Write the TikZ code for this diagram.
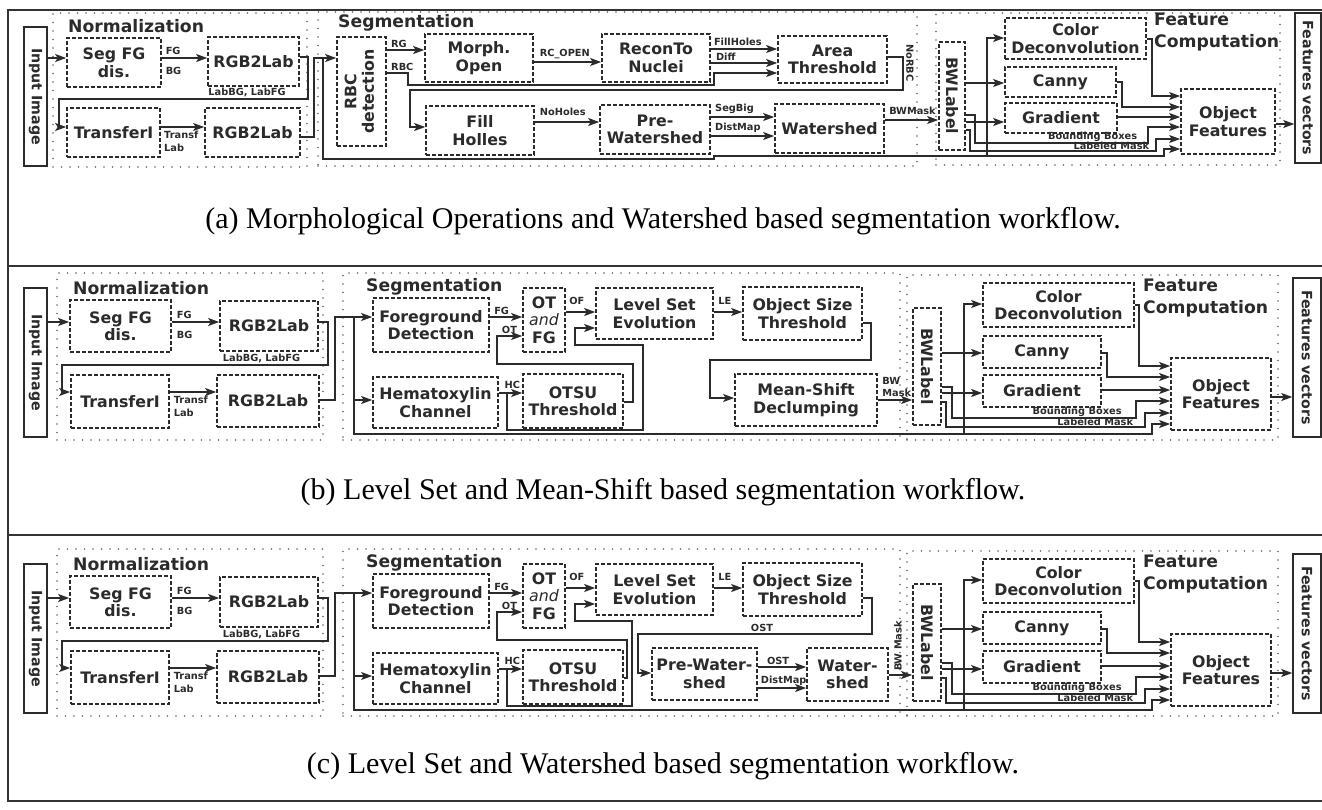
\documentclass[tikz,border=0pt]{standalone}
\usepackage{fontspec}
\usepackage{graphicx}
\usetikzlibrary{arrows.meta}
\setmainfont{DejaVu Sans}
\newfontfamily\capfont{Liberation Serif}
\definecolor{ink}{HTML}{2B2B2B}
\newcommand\boxfont{\bfseries\fontsize{15.8}{17.5}\selectfont}
\newcommand\ttlfont{\bfseries\fontsize{17.2}{22}\selectfont}
\newcommand\lblfont{\bfseries\fontsize{9.8}{12.5}\selectfont}
\newcommand\rotfont{\bfseries\fontsize{14.2}{16}\selectfont}
\newcommand\bx[7][]{\node[dbox,#1,minimum width={#5-#3},minimum height={#6-#4}] (#2) at ({(#3+#5)/2},{(#4+#6)/2}) {#7};}
\tikzset{
  dbox/.style={draw=ink, line width=1.7pt, dash pattern=on 3.6pt off 2.4pt, inner sep=0pt, align=center, font=\boxfont, text=ink},
  sbox/.style={solid, line width=1.5pt, font=\rotfont},
  region/.style={draw=black!60, line width=1.6pt, dash pattern=on 0pt off 8.5pt, line cap=round},
  ttl/.style={font=\ttlfont, text=ink, inner sep=0pt, anchor=west},
  lbl/.style={font=\lblfont, text=ink, inner sep=0.5pt},
  conn/.style={draw=ink, line width=1.4pt},
  arr/.style={conn, -{Stealth[length=11pt,width=8pt,inset=2.5pt]}},
  framestyle/.style={draw=black!80, line width=1.5pt},
  captxt/.style={anchor=center, inner sep=0pt, font=\capfont\fontsize{30}{33}\selectfont, text=black}
}
% common structure of panels (b) and (c): prefix, vertical shift, OT x, HC x
\newcommand\panelbc[4]{%
\begin{scope}[shift={(0,#2)}]
\bx[region]{#1nreg}{57}{273}{323}{440}{}
\bx[region]{#1sreg}{343}{273}{900}{440}{}
\bx[region]{#1freg}{907}{275}{1278}{440}{}
\node[ttl] (#1nt) at (73,288) {Normalization};
\node[ttl] (#1st) at (366,287) {Segmentation};
\node[ttl,anchor=north west,align=left] (#1ft) at (1143,279) {Feature\\Computation};
\bx[sbox]{#1in}{24}{288}{47}{437}{\rotatebox{-90}{Input Image}}
\bx{#1seg}{70}{300}{171}{352}{Seg FG\\dis.}
\bx{#1rgb1}{220}{301}{318}{351}{RGB2Lab}
\bx{#1tr}{71}{375}{169}{428}{TransferI}
\bx{#1rgb2}{217}{375}{319}{427}{RGB2Lab}
\bx{#1fd}{373}{298}{489}{352}{Foreground\\Detection}
\bx{#1af}{523}{288}{565}{352}{OT\\{\mdseries\itshape and}\\FG}
\bx{#1ls}{596}{288}{713}{339}{Level Set\\Evolution}
\bx{#1hc}{373}{377}{498}{428}{Hematoxylin\\Channel}
\bx{#1ot}{523}{374}{623}{428}{OTSU\\Threshold}
\bx{#1os}{743}{287}{862}{340}{Object Size\\Threshold}
\bx{#1bw}{913}{308}{941}{425}{\rotatebox{-90}{BWLabel}}
\bx{#1cd}{983}{283}{1134}{327}{Color\\Deconvolution}
\bx{#1ca}{983}{336}{1101}{368}{Canny}
\bx{#1gr}{983}{375}{1101}{407}{Gradient}
\bx{#1of}{1171}{358}{1271}{430}{Object\\Features}
\bx[sbox]{#1fv}{1293}{278}{1321}{437}{\rotatebox{-90}{Features vectors}}
% normalization
\draw[arr] (#1in.east |- 0,322) -- (#1seg.west |- 0,322);
\draw[arr] (#1seg.east |- 0,322) -- node[lbl,pos=0.08,anchor=south west,yshift=2pt] (#1lfg) {FG} node[lbl,pos=0.08,anchor=north west,yshift=-8pt] (#1lbg) {BG} (#1rgb1.west |- 0,322);
\draw[arr] (#1rgb1.east |- 0,322) -- (328,322) -- (328,365) -- node[lbl,pos=0.25,above,yshift=1pt] (#1llab) {LabBG, LabFG} (62,365) -- (62,392) -- (#1tr.west |- 0,392);
\draw[arr] (#1tr.east |- 0,392) -- node[lbl,pos=0.06,anchor=north west,align=left,yshift=-3pt] (#1ltl) {Transf\\Lab} (#1rgb2.west |- 0,392);
\draw[arr] (#1rgb2.east |- 0,400) -- (335,400) -- (335,317) -- (#1fd.west |- 0,317);
\coordinate (#1j1) at (354,317);
\coordinate (#1j2) at (354,400);
\draw[arr] (#1j1) -- (#1j2) -- (#1hc.west |- 0,400);
\draw[arr] (#1j2) -- (354,434) -- (1152,434) -- (1152,424) -- (#1of.west |- 0,424);
\coordinate (#1j3) at (964,434);
\draw[arr] (#1j3) -- (964,304) -- (#1cd.west |- 0,304);
% segmentation
\draw[arr] (#1fd.east |- 0,317) -- node[lbl,pos=0.1,anchor=south west,yshift=1pt] (#1lfg2) {FG} (#1af.west |- 0,317);
\draw[arr] (#1ot.east |- 0,402) -- (#3,402) -- (#3,364) -- (497,364) -- (497,336) -- node[lbl,pos=0.15,anchor=south west,yshift=1pt] (#1lot) {OT} (#1af.west |- 0,336);
\draw[arr] (#1hc.east |- 0,393) -- node[lbl,pos=0.2,anchor=south west,yshift=3pt] (#1lhc) {HC} (#1ot.west |- 0,393);
\coordinate (#1j4) at (507,393);
\draw[arr] (#1j4) -- (507,430) -- (#4,430) -- (#4,345) -- (575,345) -- (575,328) -- (#1ls.west |- 0,328);
\draw[arr] (#1af.east |- 0,312) -- node[lbl,pos=0.08,anchor=south west,yshift=6pt] (#1lof) {OF} (#1ls.west |- 0,312);
\draw[arr] (#1ls.east |- 0,312) -- node[lbl,pos=0.12,anchor=south west,yshift=6pt] (#1lle) {LE} (#1os.west |- 0,312);
% feature computation
\draw[arr] (#1bw.east |- 0,353) -- (#1ca.west |- 0,353);
\draw[arr] (#1bw.east |- 0,393) -- (#1gr.west |- 0,393);
\draw[arr] (#1bw.east |- 0,387) -- (952,387) -- (952,418) -- node[lbl,pos=0.68,above] (#1lbb) {Bounding Boxes} (1136,418) -- (1136,401) -- (#1of.west |- 0,401);
\draw[arr] (#1bw.east |- 0,402) -- (946,402) -- (946,427) -- node[lbl,pos=0.75,above] (#1llm) {Labeled Mask} (1145,427) -- (1145,413) -- (#1of.west |- 0,413);
\draw[arr] (#1cd.east |- 0,305) -- (1139,305) -- (1139,366) -- (#1of.west |- 0,366);
\draw[arr] (#1ca.east |- 0,353) -- (1107,353) -- (1107,377) -- (#1of.west |- 0,377);
\draw[arr] (#1gr.east |- 0,390) -- (#1of.west |- 0,390);
\draw[arr] (#1of.east |- 0,397) -- (#1fv.west |- 0,397);
\end{scope}}
\begin{document}
\begin{tikzpicture}[x=1pt,y=-1pt]
\useasboundingbox (0,0) rectangle (1322,809);
\fill[white] (0,0) rectangle (1322,809);
% frame
\draw[framestyle] (1322,10) -- (8,10) -- (8,801) -- (1322,801) (8,266) -- (1322,266) (8,535) -- (1322,535);
% ================= panel (a)
\bx[region]{a-nreg}{53}{13}{307}{167}{}
\bx[region]{a-sreg}{318}{12}{917}{166}{}
\bx[region]{a-freg}{936}{13}{1280}{165}{}
\node[ttl] (a-nt) at (68,26) {Normalization};
\node[ttl] (a-st) at (338,23) {Segmentation};
\node[ttl,anchor=north west,align=left] (a-ft) at (1154,13) {Feature\\Computation};
\bx[sbox]{a-in}{24}{27}{47}{166}{\rotatebox{-90}{Input Image}}
\bx{a-seg}{67}{38}{161}{87}{Seg FG\\dis.}
\bx{a-rgb1}{208}{37}{299}{86}{RGB2Lab}
\bx{a-tr}{67}{108}{160}{157}{TransferI}
\bx{a-rgb2}{205}{108}{300}{157}{RGB2Lab}
\bx{a-rbc}{337}{37}{386}{146}{\rotatebox{90}{\begin{tabular}{@{}c@{}}RBC\\detection\end{tabular}}}
\bx{a-mo}{425}{34}{533}{82}{Morph.\\Open}
\bx{a-rn}{602}{34}{710}{82}{ReconTo\\Nuclei}
\bx{a-at}{778}{36}{887}{83}{Area\\Threshold}
\bx{a-fh}{426}{106}{534}{155}{Fill\\Holles}
\bx{a-pw}{600}{105}{710}{154}{Pre-\\Watershed}
\bx{a-ws}{775}{104}{884}{153}{Watershed}
\bx{a-bw}{939}{42}{965}{150}{\rotatebox{-90}{BWLabel}}
\bx{a-cd}{1005}{18}{1146}{59}{Color\\Deconvolution}
\bx{a-ca}{1005}{67}{1116}{97}{Canny}
\bx{a-gr}{1005}{103}{1117}{133}{Gradient}
\bx{a-of}{1181}{89}{1275}{154}{Object\\Features}
\bx[sbox]{a-fv}{1295}{13}{1321}{163}{\rotatebox{-90}{Features vectors}}
% normalization (a)
\draw[arr] (a-in.east |- 0,58) -- (a-seg.west |- 0,58);
\draw[arr] (a-seg.east |- 0,58) -- node[lbl,pos=0.06,anchor=south west,yshift=2pt] (a-lfg) {FG} node[lbl,pos=0.06,anchor=north west,yshift=-8pt] (a-lbg) {BG} (a-rgb1.west |- 0,58);
\draw[arr] (a-rgb1.east |- 0,57) -- (308,57) -- (308,99) -- node[lbl,pos=0.245,above,yshift=1pt] (a-llab) {LabBG, LabFG} (59,99) -- (59,127) -- (a-tr.west |- 0,127);
\draw[arr] (a-tr.east |- 0,127) -- node[lbl,pos=0.05,anchor=north west,align=left,yshift=-3pt] (a-ltl) {Transf\\Lab} (a-rgb2.west |- 0,127);
\draw[arr] (a-rgb2.east |- 0,137) -- (314,137) -- (314,58) -- (a-rbc.west |- 0,58);
\coordinate (a-j1) at (323,58);
\draw[arr] (a-j1) -- (323,159) -- (714,159) -- (714,156) -- (1164,156) -- (1164,149) -- (a-of.west |- 0,149);
\coordinate (a-j2) at (987,156);
\draw[arr] (a-j2) -- (987,38) -- (a-cd.west |- 0,38);
% segmentation (a)
\draw[arr] (a-rbc.east |- 0,50) -- node[lbl,pos=0.08,anchor=south west,yshift=1pt] (a-lrg) {RG} (a-mo.west |- 0,50);
\draw[arr] (a-rbc.east |- 0,73) -- node[lbl,pos=0.15,anchor=south west,yshift=1pt] (a-lrbc) {RBC} (408,73) -- (408,85) -- (714,85) -- (714,73) -- (a-at.west |- 0,73);
\draw[arr] (a-mo.east |- 0,62) -- node[lbl,pos=0.46,above,yshift=2pt] (a-lrc) {RC\_OPEN} (a-rn.west |- 0,62);
\draw[arr] (a-rn.east |- 0,49) -- node[lbl,pos=0.03,anchor=south west,yshift=2pt] (a-lfh) {FillHoles} (a-at.west |- 0,49);
\draw[arr] (a-rn.east |- 0,63) -- node[lbl,pos=0.06,anchor=south west,yshift=1pt] (a-ldf) {Diff} (a-at.west |- 0,63);
\draw[arr] (a-at.east |- 0,57) -- (903,57) -- (903,90) -- (410,90) -- (410,127) -- (a-fh.west |- 0,127);
\node[lbl,rotate=-90] (a-lnr) at (910,63) {NoRBC};
\draw[arr] (a-fh.east |- 0,122) -- node[lbl,pos=0.06,anchor=south west,yshift=5pt] (a-lnh) {NoHoles} (a-pw.west |- 0,122);
\draw[arr] (a-pw.east |- 0,117) -- node[lbl,pos=0.05,anchor=south west,yshift=2pt] (a-lsb) {SegBig} (a-ws.west |- 0,117);
\draw[arr] (a-pw.east |- 0,136) -- node[lbl,pos=0.05,anchor=south west,yshift=2pt] (a-ldm) {DistMap} (a-ws.west |- 0,136);
\draw[arr] (a-ws.east |- 0,120) -- node[lbl,pos=0.06,anchor=south west,yshift=4pt] (a-lbwm) {BWMask} (a-bw.west |- 0,120);
% feature computation (a)
\draw[arr] (a-bw.east |- 0,83) -- (a-ca.west |- 0,83);
\draw[arr] (a-bw.east |- 0,122) -- (a-gr.west |- 0,122);
\draw[arr] (a-bw.east |- 0,115) -- (975,115) -- (975,143) -- node[lbl,pos=0.68,above] (a-lbb) {Bounding Boxes} (1148,143) -- (1148,127) -- (a-of.west |- 0,127);
\draw[arr] (a-bw.east |- 0,130) -- (970,130) -- (970,151) -- node[lbl,pos=0.76,above] (a-llm) {Labeled Mask} (1156,151) -- (1156,139) -- (a-of.west |- 0,139);
\draw[arr] (a-cd.east |- 0,39) -- (1152,39) -- (1152,96) -- (a-of.west |- 0,96);
\draw[arr] (a-ca.east |- 0,82) -- (1122,82) -- (1122,107) -- (a-of.west |- 0,107);
\draw[arr] (a-gr.east |- 0,117) -- (a-of.west |- 0,117);
\draw[arr] (a-of.east |- 0,124) -- (a-fv.west |- 0,124);
\node[captxt] (a-cap) at (663,221) {(a) Morphological Operations and Watershed based segmentation workflow.};
% ================= panel (b)
\panelbc{b-}{0}{633}{643}
\bx{b-ms}{735}{374}{877}{426}{Mean-Shift\\Declumping}
\draw[arr] (b-os.east |- 0,323) -- (871,323) -- (871,360) -- (710,360) -- (710,398) -- (b-ms.west |- 0,398);
\draw[arr] (b-ms.east |- 0,400) -- node[lbl,pos=0.1,anchor=south west,align=left,yshift=2pt] (b-lbwm) {BW\\Mask} (b-bw.west |- 0,400);
\node[captxt] (b-cap) at (663,492) {(b) Level Set and Mean-Shift based segmentation workflow.};
% ================= panel (c)
\panelbc{c-}{276}{627}{632}
\bx{c-pw}{652}{648}{757}{700}{Pre-Water-\\shed}
\bx{c-ws}{807}{648}{888}{701}{Water-\\shed}
\draw[arr] (c-os.east |- 0,598) -- (872,598) -- (872,634) -- node[lbl,pos=0.47,above,yshift=1pt] (c-lost) {OST} (638,634) -- (638,673) -- (c-pw.west |- 0,673);
\draw[arr] (c-pw.east |- 0,667) -- node[lbl,pos=0.42,above,yshift=1pt] (c-lost2) {OST} (c-ws.west |- 0,667);
\draw[arr] (c-pw.east |- 0,688) -- node[lbl,pos=0.04,anchor=south west,yshift=1pt] (c-ldm) {DistMap} (c-ws.west |- 0,688);
\draw[arr] (c-ws.east |- 0,675) -- (c-bw.west |- 0,675);
\node[lbl,rotate=90] (c-lbw) at (898,646) {BW Mask};
\node[captxt] (c-cap) at (663,766) {(c) Level Set and Watershed based segmentation workflow.};
\end{tikzpicture}
\end{document}
